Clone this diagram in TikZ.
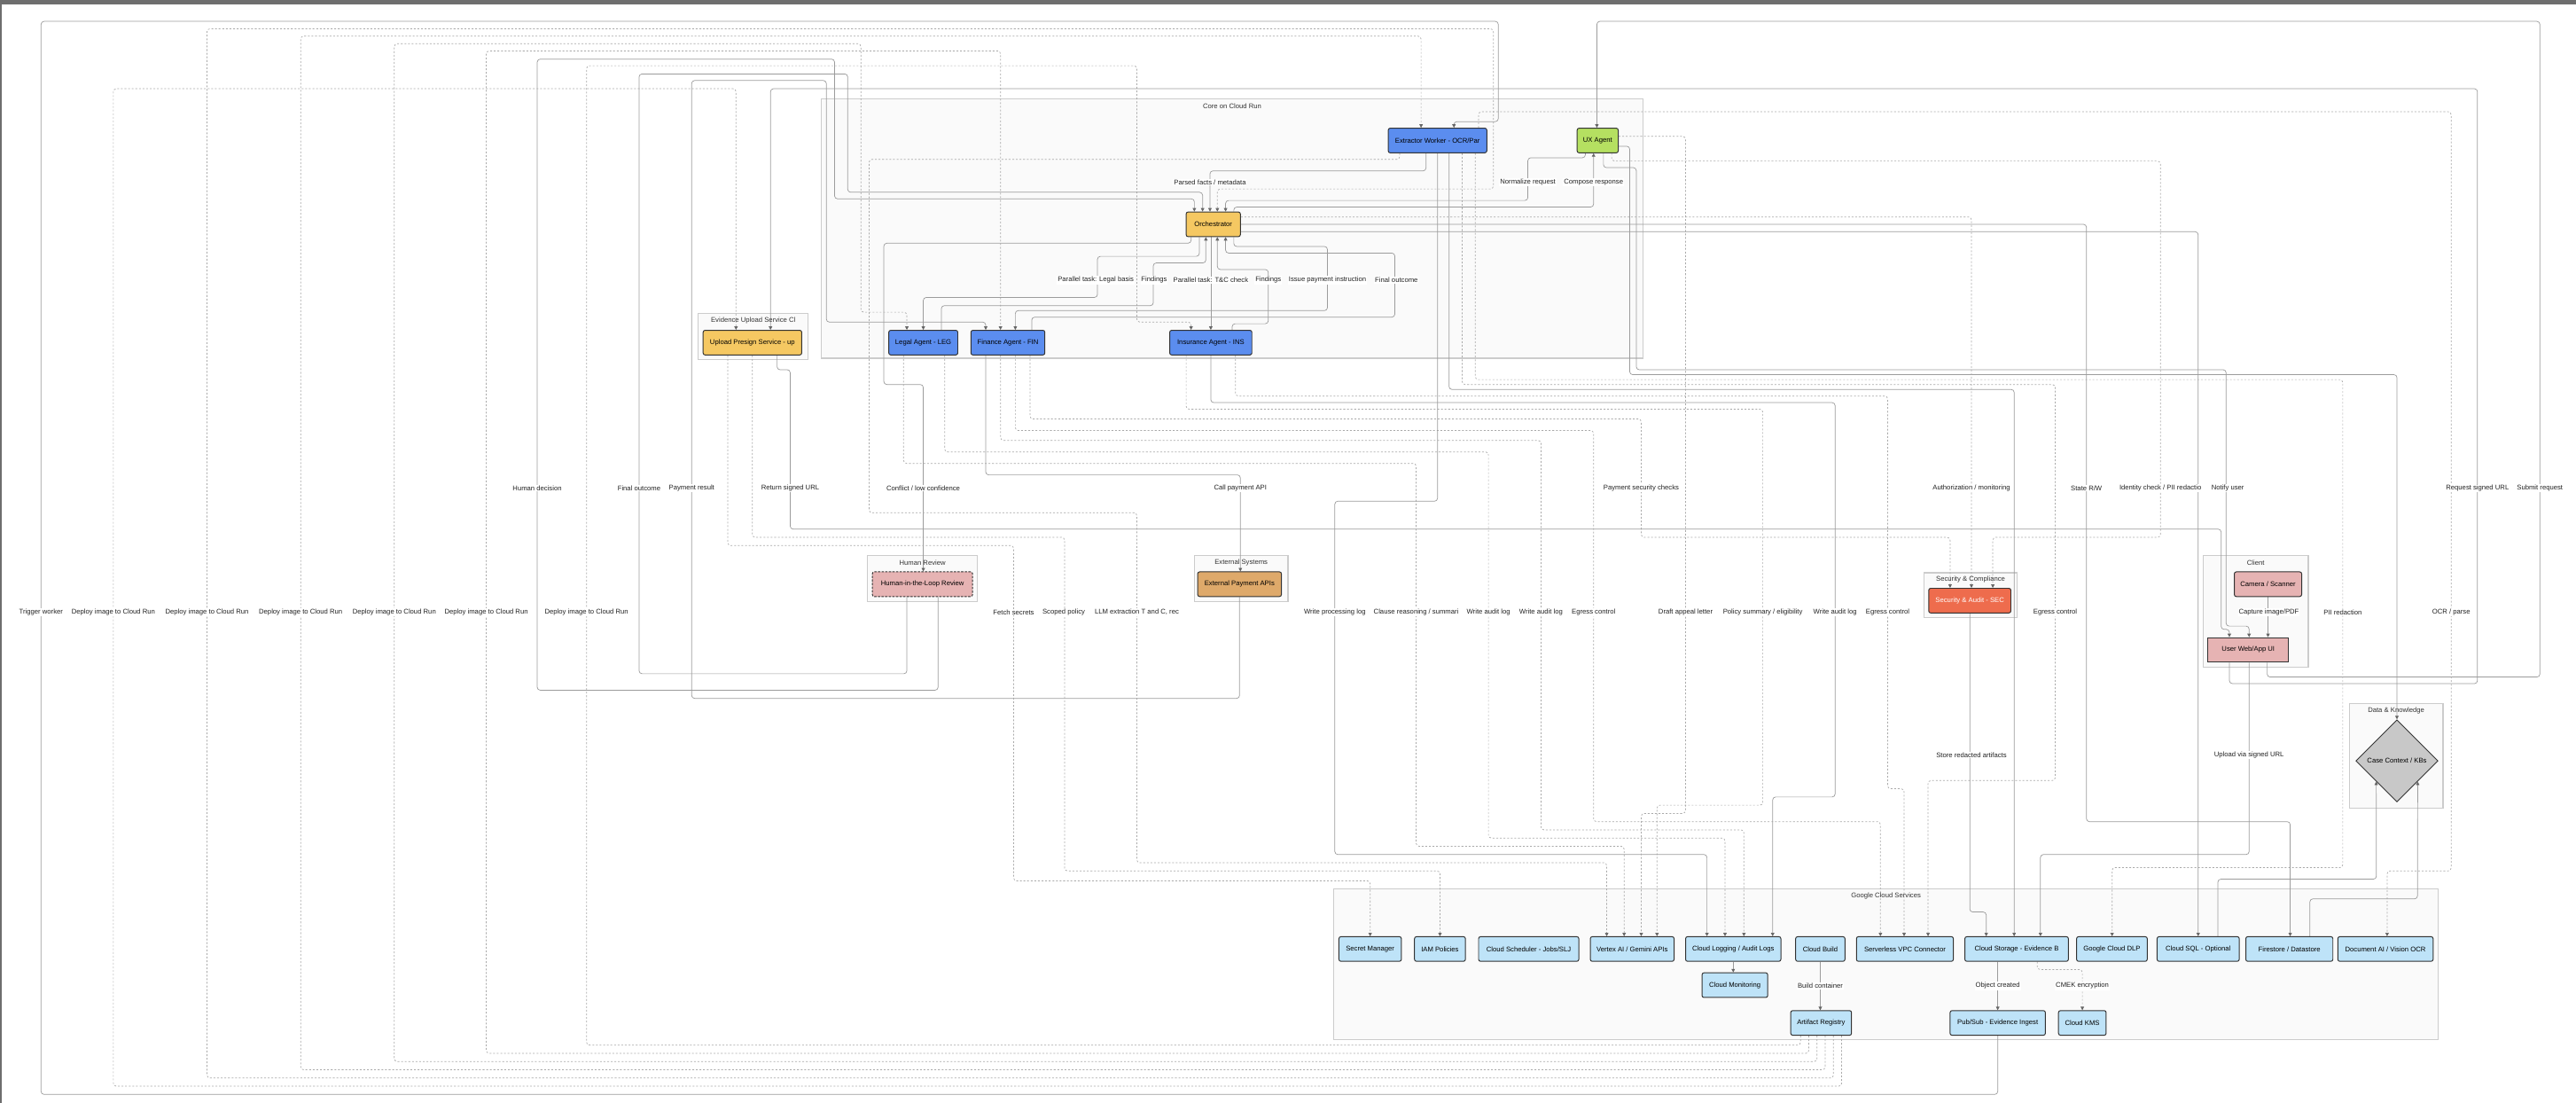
\documentclass[tikz,border=0pt]{standalone}
\usepackage{fontspec}
\setmainfont{Liberation Sans}
\usepackage{xcolor}
\usepackage{tikz}
\usetikzlibrary{shapes.geometric,arrows.meta,positioning,backgrounds}
\definecolor{agentblue}{HTML}{5B8DEF}
\definecolor{uxgreen}{HTML}{B5E061}
\definecolor{orchyellow}{HTML}{F5C862}
\definecolor{hitlpink}{HTML}{E6B3B3}
\definecolor{payorange}{HTML}{DEA96A}
\definecolor{secred}{HTML}{EE6C4D}
\definecolor{gcpblue}{HTML}{BEE3F8}
\definecolor{kbgray}{HTML}{C8C8C8}
\definecolor{grpfill}{HTML}{FAFAFA}
\definecolor{grpline}{HTML}{CCCCCC}
\definecolor{nodeline}{HTML}{333333}
\definecolor{edgesolid}{HTML}{9C9C9C}
\definecolor{edgedot}{HTML}{AAAAAA}
\definecolor{tipgray}{HTML}{666666}
\definecolor{lbltext}{HTML}{222222}
\definecolor{framegray}{HTML}{6E6E6E}
\newcommand{\dgfont}{\fontsize{11.8}{14}\selectfont}
\pgfdeclarelayer{grp}
\pgfdeclarelayer{edges}
\pgfsetlayers{grp,edges,main}
\tikzset{
  box/.style={rectangle,rounded corners=1.2mm,draw=nodeline,line width=1.5pt,
    minimum height=15mm,inner sep=0pt,font=\dgfont,text=black},
  agent/.style={box,fill=agentblue},
  svc/.style={box,fill=gcpblue},
  grp/.style={draw=grpline,fill=grpfill,line width=1.8pt},
  gtitle/.style={font=\dgfont,text=nodeline,inner sep=0pt},
  lbl/.style={fill=white,inner sep=0.5mm,font=\dgfont,text=lbltext},
  solarr/.style={draw=edgesolid,line width=1.1pt,rounded corners=1.8mm,
    -{Triangle[length=2.1mm,width=2.1mm,color=tipgray]}},
  dotarr/.style={solarr,draw=edgedot,dash pattern=on 1.1mm off 1.1mm},
}

\begin{document}
\begin{tikzpicture}[x=1mm,y=-1mm]
\useasboundingbox (0,0) rectangle (1568,671);

% CORE ON CLOUD RUN
\node[agent,minimum width=60mm] (ext) at (875,85.5) {Extractor Worker - OCR/Par};
\node[box,fill=uxgreen,minimum width=25mm] (ux) at (972.5,85.5) {UX Agent};
\node[box,fill=orchyellow,minimum width=33mm] (orch) at (738.5,136.5) {Orchestrator};
\node[agent,minimum width=42mm] (leg) at (562,208.5) {Legal Agent - LEG};
\node[agent,minimum width=45mm] (fin) at (613.5,208.5) {Finance Agent - FIN};
\node[agent,minimum width=50mm] (ins) at (737,208.5) {Insurance Agent - INS};

% EVIDENCE UPLOAD
\node[box,fill=orchyellow,minimum width=60mm] (upl) at (458,208.5) {Upload Presign Service - up};

% HUMAN REVIEW / EXTERNAL / SECURITY
\node[box,fill=hitlpink,dash pattern=on 1.4mm off 0.8mm,minimum width=61mm] (hitl) at (561.5,355.5) {Human-in-the-Loop Review};
\node[box,fill=payorange,minimum width=51mm] (pay) at (754.5,355.5) {External Payment APIs};
\node[box,fill=secred,text=white,minimum width=50mm] (sec) at (1199,365.5) {Security \& Audit - SEC};

% CLIENT
\node[box,fill=hitlpink,minimum width=41mm] (cam) at (1380.5,355.5) {Camera / Scanner};
\node[box,fill=hitlpink,sharp corners,minimum width=49mm] (ui) at (1368.5,395.5) {User Web/App UI};

% DATA & KNOWLEDGE
\node[diamond,aspect=1,draw=nodeline,line width=1.5pt,fill=kbgray,minimum width=50mm,
  minimum height=50mm,inner sep=0pt,font=\dgfont] (kb) at (1459,463) {Case Context / KBs};

% GOOGLE CLOUD SERVICES
\node[svc,minimum width=38mm] (sm) at (834,577.5) {Secret Manager};
\node[svc,minimum width=31mm] (iam) at (876.5,577.5) {IAM Policies};
\node[svc,minimum width=61mm] (sched) at (930.5,577.5) {Cloud Scheduler - Jobs/SLJ};
\node[svc,minimum width=51mm] (vtx) at (993.5,577.5) {Vertex AI / Gemini APIs};
\node[svc,minimum width=58mm] (logs) at (1055,577.5) {Cloud Logging / Audit Logs};
\node[svc,minimum width=30mm] (bld) at (1108,577.5) {Cloud Build};
\node[svc,minimum width=59mm] (vpc) at (1159.5,577.5) {Serverless VPC Connector};
\node[svc,minimum width=63mm] (gcs) at (1227.5,577.5) {Cloud Storage - Evidence B};
\node[svc,minimum width=43mm] (dlp) at (1285.5,577.5) {Google Cloud DLP};
\node[svc,minimum width=50mm] (sql) at (1338,577.5) {Cloud SQL - Optional};
\node[svc,minimum width=53mm] (fs) at (1393.5,577.5) {Firestore / Datastore};
\node[svc,minimum width=58mm] (doc) at (1452,577.5) {Document AI / Vision OCR};
\node[svc,minimum width=40mm] (mon) at (1056,599.5) {Cloud Monitoring};
\node[svc,minimum width=37mm] (art) at (1108.5,622.5) {Artifact Registry};
\node[svc,minimum width=58mm] (pubs) at (1216,622.5) {Pub/Sub - Evidence Ingest};
\node[svc,minimum width=29mm] (kms) at (1267.5,622.5) {Cloud KMS};

% Groups
\begin{pgfonlayer}{grp}
\fill[white] (0,0) rectangle (1568,671);
\fill[framegray] (0,0) rectangle (1568,2.6);
\fill[framegray] (0,0) rectangle (1,671);
\draw[grp] (500,60) rectangle (1000,218);
\draw[grp] (425,190.6) rectangle (492,219);
\draw[grp] (528,338) rectangle (595,366);
\draw[grp] (727,338) rectangle (784,366);
\draw[grp] (1171,348.6) rectangle (1228,375.6);
\draw[grp] (1341,338) rectangle (1405,406);
\draw[grp] (1430,428) rectangle (1487,491.7);
\draw[grp] (812,541) rectangle (1484,632.6);
\end{pgfonlayer}
\node[gtitle] (tCore) at (750,64.5) {Core on Cloud Run};
\node[gtitle] (tUpl) at (458.5,195) {Evidence Upload Service Cl};
\node[gtitle] (tHum) at (561.5,342.5) {Human Review};
\node[gtitle] (tExt) at (755.5,342.5) {External Systems};
\node[gtitle] (tSec) at (1199.5,352.5) {Security \& Compliance};
\node[gtitle] (tCli) at (1373,342.5) {Client};
\node[gtitle] (tData) at (1458.5,432.5) {Data \& Knowledge};
\node[gtitle] (tGcp) at (1148,545.5) {Google Cloud Services};

% Relations
\begin{pgfonlayer}{edges}
% deploy loops from Artifact Registry
\draw[dotarr] (art.south -| 1121,0) -- (1121,661) -- (69,661) -- (69,54) -- (448,54) -- (upl.north -| 448,0);
\draw[dotarr] (art.south -| 1116,0) -- (1116,656) -- (126,656) -- (126,17.5) -- (909,17.5) -- (909,115) -- (741,115) -- (orch.north -| 741,0);
\draw[dotarr] (art.south -| 1111,0) -- (1111,651) -- (183,651) -- (183,22) -- (865,22) -- (ext.north -| 865,0);
\draw[dotarr] (art.south -| 1106,0) -- (1106,646) -- (240,646) -- (240,26.6) -- (524,26.6) -- (524,190) -- (552,190) -- (leg.north -| 552,0);
\draw[dotarr] (art.south -| 1101,0) -- (1101,641) -- (296,641) -- (296,31) -- (609,31) -- (fin.north -| 609,0);
\draw[dotarr] (art.south -| 1096,0) -- (1096,636) -- (357,636) -- (357,40) -- (692,40) -- (692,196) -- (725,196) -- (ins.north -| 725,0);
\draw[solarr] (pubs.south) -- (1216,666) -- (25,666) -- (25,13) -- (912,13) -- (912,74) -- (885,74) -- (ext.north -| 885,0);
% client
\draw[solarr] (ui.south -| 1357,0) -- (1357,416) -- (1508,416) -- (1508,54) -- (469,54) -- (upl.north -| 469,0);
\draw[solarr] (ui.south -| 1380,0) -- (1380,412) -- (1546,412) -- (1546,13) -- (972,13) -- (ux.north -| 972,0);
\draw[solarr] (upl.south -| 473,0) -- (473,225) -- (481,225) -- (481,322) -- (1352,322) -- (1352,383) -- (1357,383) -- (ui.north -| 1357,0);
\draw[solarr] (ui.south -| 1369,0) -- (1369,520) -- (1242,520) -- (gcs.north -| 1242,0);
\draw[solarr] (cam.south) -- (cam.south |- ui.north);
% core
\draw[solarr] (ext.south -| 868,0) -- (868,104) -- (736.5,104) -- (orch.north -| 736.5,0);
\draw[solarr] (ux.south -| 965,0) -- (965,96) -- (930,96) -- (930,122) -- (746,122) -- (orch.north -| 746,0);
\draw[solarr] (orch.north -| 751,0) -- (751,126) -- (970,126) -- (ux.south -| 970,0);
\draw[solarr] (hitl.south -| 571,0) -- (571,420) -- (327,420) -- (327,36) -- (508,36) -- (508,121) -- (727,121) -- (orch.north -| 727,0);
\draw[solarr] (hitl.south -| 552,0) -- (552,410) -- (389,410) -- (389,45) -- (516,45) -- (516,117) -- (732,117) -- (orch.north -| 732,0);
\draw[solarr] (pay.south) -- (754.5,425) -- (421,425) -- (421,49) -- (503,49) -- (503,196) -- (600,196) -- (fin.north -| 600,0);
\draw[solarr] (orch.south -| 725,0) -- (725,148) -- (538,148) -- (538,234) -- (562,234) -- (hitl.north -| 562,0);
\draw[solarr] (orch.south -| 730,0) -- (730,156) -- (668,156) -- (668,181) -- (562,181) -- (leg.north -| 562,0);
\draw[solarr] (leg.north -| 573,0) -- (573,186) -- (702,186) -- (702,160) -- (734,160) -- (orch.south -| 734,0);
\draw[solarr] (orch.south -| 737,0) -- (ins.north -| 737,0);
\draw[solarr] (ins.north -| 750,0) -- (750,197) -- (772,197) -- (772,164) -- (741,164) -- (orch.south -| 741,0);
\draw[solarr] (fin.north -| 628,0) -- (628,193) -- (849,193) -- (849,154) -- (746,154) -- (orch.south -| 746,0);
\draw[solarr] (orch.south -| 751,0) -- (751,150) -- (808,150) -- (808,189) -- (618,189) -- (fin.north -| 618,0);
% agents to cloud services
\draw[dotarr] (leg.south -| 575,0) -- (575,275) -- (906,275) -- (906,510) -- (1050,510) -- (logs.north -| 1050,0);
\draw[dotarr] (leg.south -| 550,0) -- (550,282) -- (862,282) -- (862,515) -- (988.6,515) -- (vtx.north -| 988.6,0);
\draw[solarr] (fin.south -| 600,0) -- (600,289) -- (755,289) -- (pay.north -| 755,0);
\draw[dotarr] (fin.south -| 609,0) -- (609,268) -- (938,268) -- (938,505) -- (1061.5,505) -- (logs.north -| 1061.5,0);
\draw[dotarr] (fin.south -| 618,0) -- (618,262) -- (970,262) -- (970,500) -- (1144.6,500) -- (vpc.north -| 1144.6,0);
\draw[dotarr] (fin.south -| 627,0) -- (627,255) -- (999,255) -- (999,327) -- (1187,327) -- (sec.north -| 1187,0);
\draw[dotarr] (ins.south -| 722,0) -- (722,249) -- (1073,249) -- (1073,490) -- (1008.6,490) -- (vtx.north -| 1008.6,0);
\draw[solarr] (ins.south -| 737,0) -- (737,245) -- (1117,245) -- (1117,485) -- (1079,485) -- (logs.north -| 1079,0);
\draw[dotarr] (ins.south -| 752,0) -- (752,241) -- (1149,241) -- (1149,480) -- (1159,480) -- (vpc.north -| 1159,0);
\draw[solarr] (ext.south -| 875,0) -- (875,305) -- (812.5,305) -- (812.5,520) -- (1039,520) -- (logs.north -| 1039,0);
\draw[solarr] (ext.south -| 882,0) -- (882,237) -- (1226,237) -- (gcs.north -| 1226,0);
\draw[dotarr] (ext.south -| 890,0) -- (890,234) -- (1251,234) -- (1251,475) -- (1173.6,475) -- (vpc.north -| 1173.6,0);
\draw[dotarr] (ext.south -| 898,0) -- (898,231) -- (1426,231) -- (1426,528) -- (1285.6,528) -- (dlp.north -| 1285.6,0);
\draw[dotarr] (ext.south -| 852,0) -- (852,97) -- (529,97) -- (529,312) -- (692,312) -- (692,525) -- (978,525) -- (vtx.north -| 978,0);
\draw[dotarr] (ext.north -| 900,0) -- (900,68) -- (1492,68) -- (1492,530) -- (1453,530) -- (doc.north -| 1453,0);
\draw[solarr] (ux.south -| 976,0) -- (976,102) -- (996,102) -- (996,225) -- (1355,225) -- (1355,381) -- (1369,381) -- (ui.north -| 1369,0);
\draw[dotarr] (ux.south -| 981,0) -- (981,98) -- (1315,98) -- (1315,327) -- (1213,327) -- (sec.north -| 1213,0);
\draw[solarr] (ux.east |- 0,89) -- (992,89) -- (992,228) -- (1459,228) -- (kb.north);
\draw[dotarr] (ux.east |- 0,83) -- (1026,83) -- (1026,495) -- (999,495) -- (vtx.north -| 999,0);
\draw[dotarr] (orch.east |- 0,132) -- (1200,132) -- (sec.north -| 1200,0);
\draw[solarr] (orch.east |- 0,136.5) -- (1270,136.5) -- (1270,500) -- (1394,500) -- (fs.north -| 1394,0);
\draw[solarr] (orch.east |- 0,141) -- (1338,141) -- (sql.north -| 1338,0);
\draw[solarr] (sec.south) -- (1199,555) -- (1209,555) -- (gcs.north -| 1209,0);
\draw[solarr] (sql.north -| 1350,0) -- (1350,535) -- (1446.5,535) -- (kb.south west);
\draw[solarr] (fs.north -| 1406,0) -- (1406,547) -- (1471.5,547) -- (kb.south east);
\draw[dotarr] (upl.south -| 443,0) -- (443,332) -- (617,332) -- (617,536) -- (834,536) -- (sm.north -| 834,0);
\draw[dotarr] (upl.south -| 458,0) -- (458,327) -- (648,327) -- (648,530) -- (876.5,530) -- (iam.north -| 876.5,0);
% inside cloud services
\draw[solarr] (logs.south) -- (logs.south |- mon.north);
\draw[solarr] (bld.south) -- (bld.south |- art.north);
\draw[solarr] (gcs.south -| 1216,0) -- (pubs.north);
\draw[dotarr] (gcs.south -| 1240,0) -- (1240,590) -- (1267.5,590) -- (kms.north);
\end{pgfonlayer}

% Labels
\node[lbl] (lParsed) at (736.5,111) {Parsed facts / metadata};
\node[lbl] (lNorm) at (930,111) {Normalize request};
\node[lbl] (lCompose) at (970,111) {Compose response};
\node[lbl] (lLegBasis) at (667,170.5) {Parallel task: Legal basis};
\node[lbl] (lFindLeg) at (702.5,170.5) {Findings};
\node[lbl] (lTC) at (737,170.5) {Parallel task: T\&C check};
\node[lbl] (lFindIns) at (772,170.5) {Findings};
\node[lbl] (lIssue) at (808,170.5) {Issue payment instruction};
\node[lbl] (lFinalFin) at (850,170.5) {Final outcome};

\node[lbl] (lHum) at (327,297) {Human decision};
\node[lbl] (lFinOut) at (389,297) {Final outcome};
\node[lbl] (lPayRes) at (421,297) {Payment result};
\node[lbl] (lRetUrl) at (481,297) {Return signed URL};
\node[lbl] (lConf) at (562,297) {Conflict / low confidence};
\node[lbl] (lCallPay) at (755,297) {Call payment API};
\node[lbl] (lPaySec) at (999,297) {Payment security checks};
\node[lbl] (lAuth) at (1200,297) {Authorization / monitoring};
\node[lbl] (lState) at (1270,297) {State R/W};
\node[lbl] (lIdent) at (1315,297) {Identity check / PII redactio};
\node[lbl] (lNotify) at (1356,297) {Notify user};
\node[lbl] (lReqUrl) at (1508,297) {Request signed URL};
\node[lbl] (lSubmit) at (1546,297) {Submit request};

\node[lbl] (lTrig) at (25,372.5) {Trigger worker};
\foreach \dx [count=\i] in {69,126,183,240,296,357}
  \node[lbl] (lDep\i) at (\dx,372.5) {Deploy image to Cloud Run};
\node[lbl] (lFetch) at (617,372.5) {Fetch secrets};
\node[lbl] (lScope) at (647.5,372.5) {Scoped policy};
\node[lbl] (lLlm) at (692,372.5) {LLM extraction T and C, rec};
\node[lbl] (lProcLog) at (812.5,372.5) {Write processing log};
\node[lbl] (lClause) at (862,372.5) {Clause reasoning / summari};
\node[lbl] (lAudLeg) at (906,372.5) {Write audit log};
\node[lbl] (lAudFin) at (938,372.5) {Write audit log};
\node[lbl] (lEgrFin) at (970,372.5) {Egress control};
\node[lbl] (lDraft) at (1026,372.5) {Draft appeal letter};
\node[lbl] (lPolicy) at (1073,372.5) {Policy summary / eligibility};
\node[lbl] (lAudIns) at (1117,372.5) {Write audit log};
\node[lbl] (lEgrIns) at (1149,372.5) {Egress control};
\node[lbl] (lEgrExt) at (1251,372.5) {Egress control};
\node[lbl] (lPii) at (1426,372.5) {PII redaction};
\node[lbl] (lOcr) at (1492,372.5) {OCR / parse};
\node[lbl] (lCapture) at (1381,372.5) {Capture image/PDF};

\node[lbl] (lStore) at (1200,459.5) {Store redacted artifacts};
\node[lbl] (lUpload) at (1369,459.5) {Upload via signed URL};

\node[lbl] (lBuild) at (1108,600) {Build container};
\node[lbl] (lObj) at (1216,600) {Object created};
\node[lbl] (lCmek) at (1267.5,600) {CMEK encryption};
\end{tikzpicture}
\end{document}
